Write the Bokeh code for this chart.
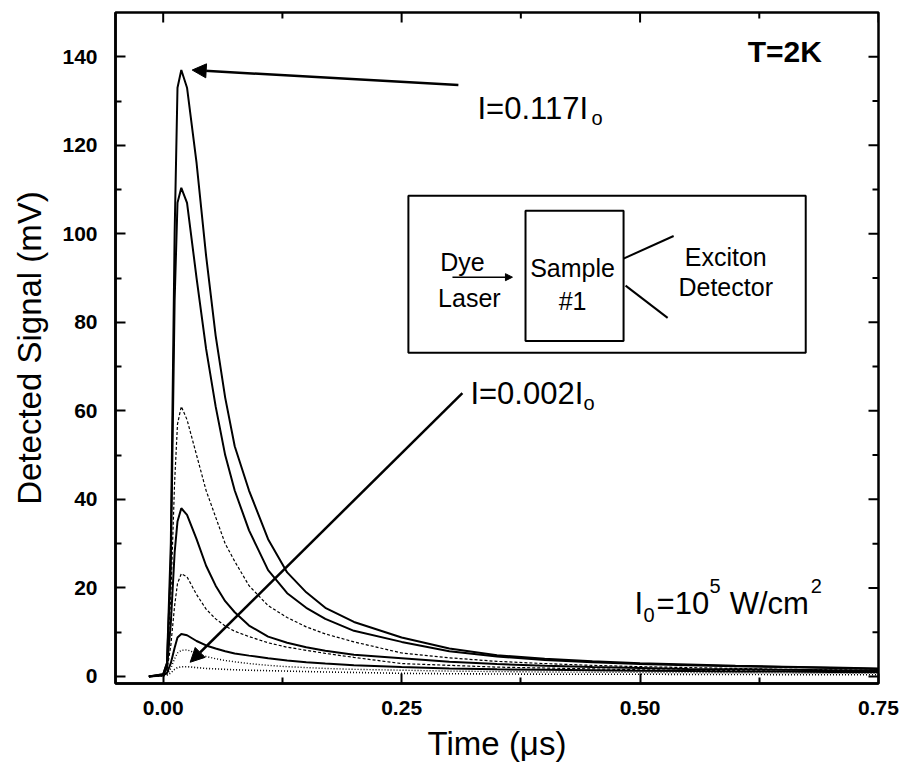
import math
from bokeh.plotting import figure
from bokeh.models import (Label, Arrow, NormalHead, FixedTicker,
                          NumeralTickFormatter, BoxAnnotation, Range1d, ColumnDataSource)
from bokeh.embed import file_html
from bokeh.resources import INLINE

# ---------------- data ----------------
time_us = [-0.015, 0.0, 0.004, 0.008, 0.012, 0.015, 0.019, 0.025, 0.035, 0.045,
           0.055, 0.065, 0.075, 0.09, 0.11, 0.13, 0.15, 0.17, 0.2, 0.25,
           0.3, 0.35, 0.4, 0.45, 0.5, 0.55, 0.6, 0.65, 0.7, 0.75]

sig_a = [0, 0.5, 3, 30, 100, 133, 137, 133, 116, 95, 77, 63, 52, 42, 31, 23.5, 19, 15.5, 12.3, 8.8,
         6.3, 4.8, 4.0, 3.4, 3.0, 2.7, 2.4, 2.2, 2.0, 1.8]          # I = 0.117 I0
sig_b = [0, 0.5, 3, 25, 85, 107, 110.4, 107, 90, 74, 61, 50, 42, 33, 24, 18.8, 15.5, 13.0, 10.3, 7.8,
         5.7, 4.5, 3.7, 3.2, 2.8, 2.5, 2.3, 2.1, 1.9, 1.7]
sig_c = [0, 0.4, 3, 18, 44, 57, 61, 58, 50, 42, 36, 30, 26, 20.5, 16, 13.3, 11.2, 9.6, 7.8, 5.3,
         4.2, 3.4, 2.9, 2.5, 2.2, 2.0, 1.8, 1.6, 1.5, 1.4]
sig_d = [0, 0.3, 2, 12, 28, 35, 38, 36.5, 31, 25, 20.5, 17, 14.5, 11.5, 9, 7.6, 6.6, 5.8, 4.9, 4.1,
         3.3, 2.8, 2.4, 2.1, 1.9, 1.7, 1.6, 1.5, 1.4, 1.3]
sig_e = [0, 0.3, 1.5, 7, 16, 21, 23.2, 22.5, 18.5, 15.2, 13, 11.4, 10.2, 9.0, 7.6, 6.6, 5.9, 5.2, 4.3, 2.9,
         2.5, 2.1, 1.9, 1.7, 1.5, 1.4, 1.3, 1.2, 1.1, 1.0]
sig_f = [0, 0.2, 0.8, 3, 6.5, 8.8, 9.6, 9.3, 8, 7, 6.3, 5.7, 5.2, 4.7, 4.1, 3.6, 3.2, 2.9, 2.5, 2.1,
         1.8, 1.6, 1.5, 1.4, 1.3, 1.2, 1.1, 1.1, 1.0, 1.0]
sig_g = [0, 0.2, 0.5, 1.8, 4, 5.3, 5.9, 6.0, 5.2, 4.5, 4.0, 3.6, 3.3, 2.9, 2.5, 2.2, 2.0, 1.8, 1.6, 1.4,
         1.2, 1.1, 1.0, 0.95, 0.9, 0.85, 0.8, 0.8, 0.75, 0.7]
sig_h = [0, 0.1, 0.3, 0.8, 1.6, 2.0, 2.2, 2.2, 2.0, 1.8, 1.7, 1.6, 1.5, 1.4, 1.3, 1.2, 1.1, 1.0, 0.9, 0.7,
         0.6, 0.55, 0.5, 0.5, 0.5, 0.45, 0.45, 0.4, 0.4, 0.4]      # I = 0.002 I0

series = [sig_a, sig_b, sig_c, sig_d, sig_e, sig_f, sig_g, sig_h]
series_dash = ["solid", "solid", "3 2", "solid", "3 2", "solid", "1 2", "1 2"]
series_width = [2.0, 2.0, 1.2, 2.0, 1.2, 2.0, 1.4, 1.6]

x_ticks = [0.0, 0.25, 0.5, 0.75]
x_minor = [0.125, 0.375, 0.625]
y_ticks = [0, 20, 40, 60, 80, 100, 120, 140]
y_minor = [10, 30, 50, 70, 90, 110, 130]

X_MIN, X_MAX = -0.05, 0.75
Y_MIN, Y_MAX = -1.6, 150

FONT = "Liberation Sans"

# ---------------- figure ----------------
p = figure(output_backend="svg", toolbar_location=None,
           frame_width=763, frame_height=671,
           x_range=Range1d(X_MIN, X_MAX), y_range=Range1d(Y_MIN, Y_MAX),
           min_border_left=115, min_border_right=22, min_border_top=12, min_border_bottom=85,
           background_fill_color="white", border_fill_color="white")
p.grid.visible = False
p.outline_line_color = "black"
p.outline_line_width = 2.5

src = ColumnDataSource(dict(t=time_us, **{f"s{i}": s for i, s in enumerate(series)}))
for i in range(len(series)):
    p.line("t", f"s{i}", source=src, line_color="black",
           line_width=series_width[i], line_dash=series_dash[i])

xax = p.xaxis[0]
yax = p.yaxis[0]
xax.ticker = FixedTicker(ticks=x_ticks, minor_ticks=x_minor)
yax.ticker = FixedTicker(ticks=y_ticks, minor_ticks=y_minor)
xax.formatter = NumeralTickFormatter(format="0.00")
for ax in (xax, yax):
    ax.axis_line_width = 2.5
    ax.axis_line_color = "black"
    ax.major_tick_in = 10
    ax.major_tick_out = 0
    ax.minor_tick_in = 6
    ax.minor_tick_out = 0
    ax.major_tick_line_width = 2
    ax.minor_tick_line_width = 2
    ax.major_tick_line_color = "black"
    ax.minor_tick_line_color = "black"
    ax.major_label_text_font = FONT
    ax.major_label_text_font_style = "bold"
    ax.major_label_text_font_size = "21px"
    ax.major_label_text_color = "black"
    ax.axis_label_text_font = FONT
    ax.axis_label_text_font_style = "normal"
    ax.axis_label_text_font_size = "33px"
    ax.axis_label_text_color = "black"
xax.major_label_standoff = 17
yax.major_label_standoff = 18
xax.axis_label = "Time (μs)"
yax.axis_label = "Detected Signal (mV)"
xax.axis_label_standoff = 7
yax.axis_label_standoff = 11

# mirrored inward ticks on the top and right frame edges
p.ray(x=x_ticks, y=[Y_MAX] * len(x_ticks), length=10, length_units="screen",
      angle=-math.pi / 2, line_color="black", line_width=2)
p.ray(x=x_minor, y=[Y_MAX] * len(x_minor), length=6, length_units="screen",
      angle=-math.pi / 2, line_color="black", line_width=2)
p.ray(x=[X_MAX] * len(y_ticks), y=y_ticks, length=10, length_units="screen",
      angle=math.pi, line_color="black", line_width=2)
p.ray(x=[X_MAX] * len(y_minor), y=y_minor, length=6, length_units="screen",
      angle=math.pi, line_color="black", line_width=2)

# ---------------- annotations ----------------
def lab(x, y, text, size, style="normal", align="left"):
    p.add_layout(Label(x=x, y=y, text=text, text_font=FONT, text_font_size=size,
                       text_font_style=style, text_align=align,
                       text_baseline="alphabetic", text_color="black"))

lab(0.6128, 141.3, "T=2K", "30px", "bold")

# I = 0.117 I0 with arrow to the top peak
lab(0.3295, 128.4, "I=0.117I", "31px")
lab(0.4491, 126.2, "o", "20px")
p.add_layout(Arrow(end=NormalHead(size=14, fill_color="black", line_color="black"),
                   x_start=0.3095, y_start=133.6, x_end=0.0304, y_end=137.0,
                   line_width=2.5, line_color="black"))

# I = 0.002 I0 with arrow to the lowest trace
lab(0.3221, 64.0, "I=0.002I", "31px")
lab(0.4407, 61.8, "o", "20px")
p.add_layout(Arrow(end=NormalHead(size=14, fill_color="black", line_color="black"),
                   x_start=0.3137, y_start=64.0, x_end=0.0283, y_end=3.2,
                   line_width=2.5, line_color="black"))

# I0 = 10^5 W/cm^2
lab(0.4942, 16.5, "I", "31px")
lab(0.5037, 13.8, "0", "20px")
lab(0.5173, 16.5, "=10", "31px")
lab(0.5729, 20.5, "5", "20px")
lab(0.5940, 16.5, "W/cm", "31px")
lab(0.6790, 20.5, "2", "20px")

# inset diagram
p.add_layout(BoxAnnotation(left=0.2571, right=0.6737, bottom=73.1, top=108.6,
                           fill_color=None, fill_alpha=0, line_color="black",
                           line_alpha=1, line_width=2))
p.add_layout(BoxAnnotation(left=0.3799, right=0.4827, bottom=75.8, top=105.2,
                           fill_color=None, fill_alpha=0, line_color="black",
                           line_alpha=1, line_width=2))
lab(0.3137, 93.6, "Dye", "25px", align="center")
lab(0.3210, 85.6, "Laser", "25px", align="center")
p.add_layout(Arrow(end=NormalHead(size=7, fill_color="black", line_color="black"),
                   x_start=0.3033, y_start=90.2, x_end=0.3662, y_end=90.2,
                   line_width=1.5, line_color="black"))
lab(0.4292, 92.3, "Sample", "25px", align="center")
lab(0.4292, 84.9, "#1", "25px", align="center")
p.segment(x0=[0.4827, 0.4848], y0=[94.4, 88.3], x1=[0.5352, 0.5289], y1=[99.5, 81.0],
          line_color="black", line_width=2)
lab(0.5898, 94.8, "Exciton", "25px", align="center")
lab(0.5898, 87.9, "Detector", "25px", align="center")

open("out.html", "w").write(file_html(p, INLINE))
